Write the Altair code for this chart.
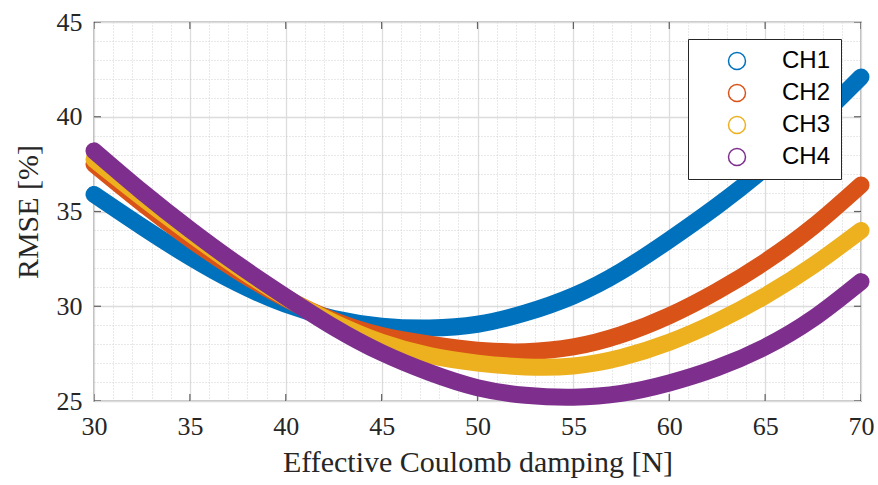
import altair as alt
import pandas as pd

# Effective Coulomb damping [N]
x_vals = [30, 32.5, 35, 37.5, 40, 42.5, 45, 47.5, 50, 52.5, 55, 57.5, 60, 62.5, 65, 67.5, 70]
# RMSE [%] per channel
ch1 = [35.9, 34.2, 32.6, 31.2, 30.1, 29.35, 28.95, 28.85, 29.05, 29.65, 30.55, 31.85, 33.5, 35.3, 37.3, 39.6, 42.1]
ch2 = [37.5, 35.45, 33.55, 31.85, 30.4, 29.25, 28.45, 28.0, 27.68, 27.6, 27.85, 28.5, 29.5, 30.8, 32.35, 34.2, 36.4]
ch3 = [37.75, 35.75, 33.85, 32.05, 30.45, 29.15, 28.1, 27.4, 27.0, 26.8, 26.85, 27.3, 28.1, 29.2, 30.55, 32.15, 34.0]
ch4 = [38.2, 36.05, 34.05, 32.2, 30.5, 28.9, 27.55, 26.5, 25.7, 25.3, 25.2, 25.4, 25.95, 26.75, 27.85, 29.35, 31.3]

names = ["CH1", "CH2", "CH3", "CH4"]
colors = ["#0072BD", "#D95319", "#EDB120", "#7E2F8E"]

x_major = [30, 35, 40, 45, 50, 55, 60, 65, 70]
y_major = [25, 30, 35, 40, 45]
x_grid = list(range(30, 71))
y_grid = list(range(25, 46))

rows = []
for name, ys in zip(names, [ch1, ch2, ch3, ch4]):
    for xv, yv in zip(x_vals, ys):
        rows.append({"x": xv, "y": yv, "ch": name})
df = pd.DataFrame(rows)

xscale = alt.Scale(domain=[30, 70], nice=False, zero=False)
yscale = alt.Scale(domain=[25, 45], nice=False, zero=False)

serif = "Liberation Serif"
txt = "#262626"
major_test = "datum.value % 5 === 0"

def grid_axis(values, **kw):
    return alt.Axis(
        values=values,
        grid=True,
        gridColor={"condition": {"test": major_test, "value": "#dcdcdc"}, "value": "#c8c8c8"},
        gridDash={"condition": {"test": major_test, "value": []}, "value": [1, 2]},
        gridWidth={"condition": {"test": major_test, "value": 1.3}, "value": 0.8},
        ticks=False,
        domain=False,
        labelExpr="datum.value % 5 === 0 ? datum.label : ''",
        labelOverlap=False,
        labelFlush=False,
        labelFont=serif,
        labelFontSize=26,
        labelColor=txt,
        titleFont=serif,
        titleFontSize=30,
        titleFontWeight="normal",
        titleColor=txt,
        **kw,
    )

xaxis = grid_axis(x_grid, title="Effective Coulomb damping [N]", labelPadding=12, titlePadding=8)
yaxis = grid_axis(y_grid, title="RMSE [%]", labelPadding=12, titlePadding=13)

lines = alt.Chart(df).mark_line(
    strokeWidth=17, strokeCap="round", strokeJoin="round", interpolate="natural"
).encode(
    x=alt.X("x:Q", scale=xscale, axis=xaxis),
    y=alt.Y("y:Q", scale=yscale, axis=yaxis),
    color=alt.Color(
        "ch:N",
        scale=alt.Scale(domain=names, range=colors),
        legend=alt.Legend(
            title=None,
            orient="none",
            legendX=594,
            legendY=17,
            symbolType="circle",
            symbolSize=289,
            symbolStrokeWidth=1.5,
            symbolFillColor="white",
            labelFont="Liberation Sans",
            labelFontSize=24,
            labelColor="black",
            labelOffset=33,
            symbolOffset=27,
            padding=10,
            rowPadding=8,
            strokeColor="#262626",
            fillColor="white",
        ),
    ),
)

xt = pd.DataFrame({"x": x_major})
yt = pd.DataFrame({"y": y_major})
tick_style = dict(size=14, thickness=1.2, color=txt, clip=True)
t_bottom = alt.Chart(xt).mark_tick(orient="vertical", **tick_style).encode(
    x=alt.X("x:Q", scale=xscale, axis=xaxis), y=alt.YDatum(25, scale=yscale, axis=yaxis))
t_top = alt.Chart(xt).mark_tick(orient="vertical", **tick_style).encode(
    x=alt.X("x:Q", scale=xscale, axis=xaxis), y=alt.YDatum(45, scale=yscale, axis=yaxis))
t_left = alt.Chart(yt).mark_tick(orient="horizontal", **tick_style).encode(
    y=alt.Y("y:Q", scale=yscale, axis=yaxis), x=alt.XDatum(30, scale=xscale, axis=xaxis))
t_right = alt.Chart(yt).mark_tick(orient="horizontal", **tick_style).encode(
    y=alt.Y("y:Q", scale=yscale, axis=yaxis), x=alt.XDatum(70, scale=xscale, axis=xaxis))

chart = alt.layer(t_bottom, t_top, t_left, t_right, lines).properties(
    width=767,
    height=379,
    padding={"left": 94, "top": 22, "right": 17, "bottom": 84},
    autosize=alt.AutoSizeParams(type="none"),
    background="white",
).configure_view(stroke=txt, strokeWidth=1.2)

chart.save("out.html", embed_options={"renderer": "svg", "actions": False})
